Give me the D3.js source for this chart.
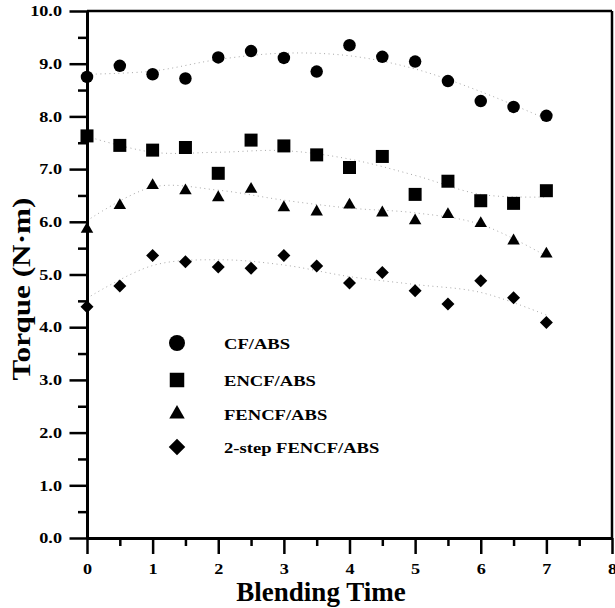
<!DOCTYPE html>
<html>
<head>
<meta charset="utf-8">
<script src="https://cdn.jsdelivr.net/npm/d3@7"></script>
<style>
  body { margin: 0; background: #fff; }
  svg { display: block; }
  text { font-family: "Liberation Serif", "Times New Roman", serif; font-weight: bold; fill: #000; }
</style>
</head>
<body>
<div id="chart"></div>
<script>
// Torque vs blending time, four CF/ABS composites

const times = [0, 0.5, 1, 1.5, 2, 2.5, 3, 3.5, 4, 4.5, 5, 5.5, 6, 6.5, 7];
const cfAbs    = [8.75, 8.96, 8.80, 8.72, 9.12, 9.24, 9.11, 8.85, 9.35, 9.13, 9.04, 8.67, 8.29, 8.18, 8.01];
const encfAbs  = [7.63, 7.45, 7.36, 7.41, 6.92, 7.55, 7.44, 7.27, 7.03, 7.24, 6.52, 6.77, 6.40, 6.35, 6.59];
const fencfAbs = [5.86, 6.31, 6.69, 6.59, 6.46, 6.62, 6.27, 6.19, 6.32, 6.17, 6.02, 6.14, 5.97, 5.64, 5.39];
const twoStep  = [4.39, 4.78, 5.36, 5.24, 5.14, 5.12, 5.36, 5.16, 4.84, 5.04, 4.69, 4.44, 4.88, 4.56, 4.09];

// dotted trend curves
const trendTimes    = [0, 1, 2, 3, 4, 5, 6, 7];
const cfTrend       = [8.80, 8.86, 9.08, 9.20, 9.15, 8.90, 8.47, 7.95];
const encfTrend     = [7.62, 7.32, 7.32, 7.35, 7.19, 6.88, 6.52, 6.47];
const fencfTrend    = [6.02, 6.66, 6.60, 6.41, 6.26, 6.17, 5.95, 5.35];
const twoStepTrend  = [4.55, 5.17, 5.28, 5.18, 4.96, 4.81, 4.66, 4.23];

const seriesNames = ["CF/ABS", "ENCF/ABS", "FENCF/ABS", "2-step FENCF/ABS"];
const xTicks = [0, 1, 2, 3, 4, 5, 6, 7, 8];
const yTicks = [0, 1, 2, 3, 4, 5, 6, 7, 8, 9, 10];

const width = 615, height = 608;

const svg = d3.select("#chart").append("svg")
  .attr("width", width)
  .attr("height", height);

svg.append("rect").attr("width", width).attr("height", height).attr("fill", "#fff");

const x = d3.scaleLinear().domain([0, 8]).range([87, 612]);
const y = d3.scaleLinear().domain([0, 10]).range([538, 11]);

const series = [
  { name: seriesNames[0], values: cfAbs,    trend: cfTrend,      shape: "circle" },
  { name: seriesNames[1], values: encfAbs,  trend: encfTrend,    shape: "square" },
  { name: seriesNames[2], values: fencfAbs, trend: fencfTrend,   shape: "triangle" },
  { name: seriesNames[3], values: twoStep,  trend: twoStepTrend, shape: "diamond" }
];

function markerPath(shape, s) {
  // s ~ overall width of the marker in px
  if (shape === "circle") return d3.symbol(d3.symbolCircle, Math.PI * (s / 2) * (s / 2))();
  if (shape === "square") return d3.symbol(d3.symbolSquare, s * s)();
  if (shape === "triangle") return d3.symbol(d3.symbolTriangle, Math.sqrt(3) / 4 * s * s)();
  const h = s / 2;
  return `M0,${-h}L${h},0L0,${h}L${-h},0Z`;
}
const markerSize = { circle: 12.5, square: 13, triangle: 12.5, diamond: 13 };
const legendSize = { circle: 16, square: 14.5, triangle: 15.5, diamond: 16.5 };

// Trend lines
const trendLine = d3.line()
  .x((d, i) => x(trendTimes[i]))
  .y(d => y(d))
  .curve(d3.curveCatmullRom);

series.forEach(s => {
  svg.append("path")
    .datum(s.trend)
    .attr("fill", "none")
    .attr("stroke", "#a8a8a8")
    .attr("stroke-width", 1)
    .attr("stroke-dasharray", "1 3.5")
    .attr("d", trendLine);
});

// Markers
series.forEach(s => {
  svg.append("g")
    .selectAll("path")
    .data(s.values)
    .enter()
    .append("path")
    .attr("transform", (d, i) => `translate(${x(times[i])},${y(d)})`)
    .attr("d", markerPath(s.shape, markerSize[s.shape]))
    .attr("fill", "#000");
});

// Axes
const tickScaleX = 1.3;

const xAxis = svg.append("g")
  .attr("transform", `translate(0,${y(0)})`)
  .call(d3.axisBottom(x).tickValues(xTicks).tickSize(16).tickSizeOuter(0).tickFormat(d3.format("d")));
xAxis.selectAll("text")
  .attr("y", 36)
  .attr("dy", 0)
  .attr("transform", `scale(${tickScaleX},1)`)
  .style("font-size", "14px");

svg.append("g")
  .attr("transform", `translate(0,${y(0)})`)
  .call(d3.axisBottom(x).tickValues(d3.range(0.5, 8, 1)).tickSize(8).tickFormat(""))
  .call(g => g.select(".domain").remove());

const yAxis = svg.append("g")
  .attr("transform", `translate(${x(0)},0)`)
  .call(d3.axisLeft(y).tickValues(yTicks).tickSize(17.5).tickSizeOuter(0).tickFormat(d3.format(".1f")));
yAxis.selectAll("text")
  .attr("x", -25 / tickScaleX)
  .attr("dy", "0.34em")
  .attr("transform", `scale(${tickScaleX},1)`)
  .style("font-size", "14px");

svg.append("g")
  .attr("transform", `translate(${x(0)},0)`)
  .call(d3.axisLeft(y).tickValues(d3.range(0.5, 10, 1)).tickSize(9).tickFormat(""))
  .call(g => g.select(".domain").remove());

svg.selectAll(".domain").attr("stroke-width", 3);
svg.selectAll(".tick line").attr("stroke-width", 2.5);

// frame top and right
svg.append("line")
  .attr("x1", x(0)).attr("x2", x(8))
  .attr("y1", y(10)).attr("y2", y(10))
  .attr("stroke", "#000").attr("stroke-width", 2.5);
svg.append("line")
  .attr("x1", x(8)).attr("x2", x(8))
  .attr("y1", y(10)).attr("y2", y(0))
  .attr("stroke", "#000").attr("stroke-width", 2.5);

// Axis titles
svg.append("text")
  .attr("x", 321)
  .attr("y", 601)
  .attr("text-anchor", "middle")
  .style("font-size", "27px")
  .text("Blending Time");

svg.append("text")
  .attr("transform", "translate(30,289) rotate(-90) scale(1.2,1)")
  .attr("text-anchor", "middle")
  .style("font-size", "26px")
  .text("Torque (N·m)");

// Legend
const legendY = [343, 380, 414, 447];
const legend = svg.append("g");
series.forEach((s, i) => {
  legend.append("path")
    .attr("transform", `translate(177,${legendY[i]})`)
    .attr("d", markerPath(s.shape, legendSize[s.shape]))
    .attr("fill", "#000");
  legend.append("text")
    .attr("transform", `translate(224,${legendY[i] + 1}) scale(1.24,1)`)
    .attr("dy", "0.35em")
    .style("font-size", "15px")
    .text(s.name);
});
</script>
</body>
</html>
